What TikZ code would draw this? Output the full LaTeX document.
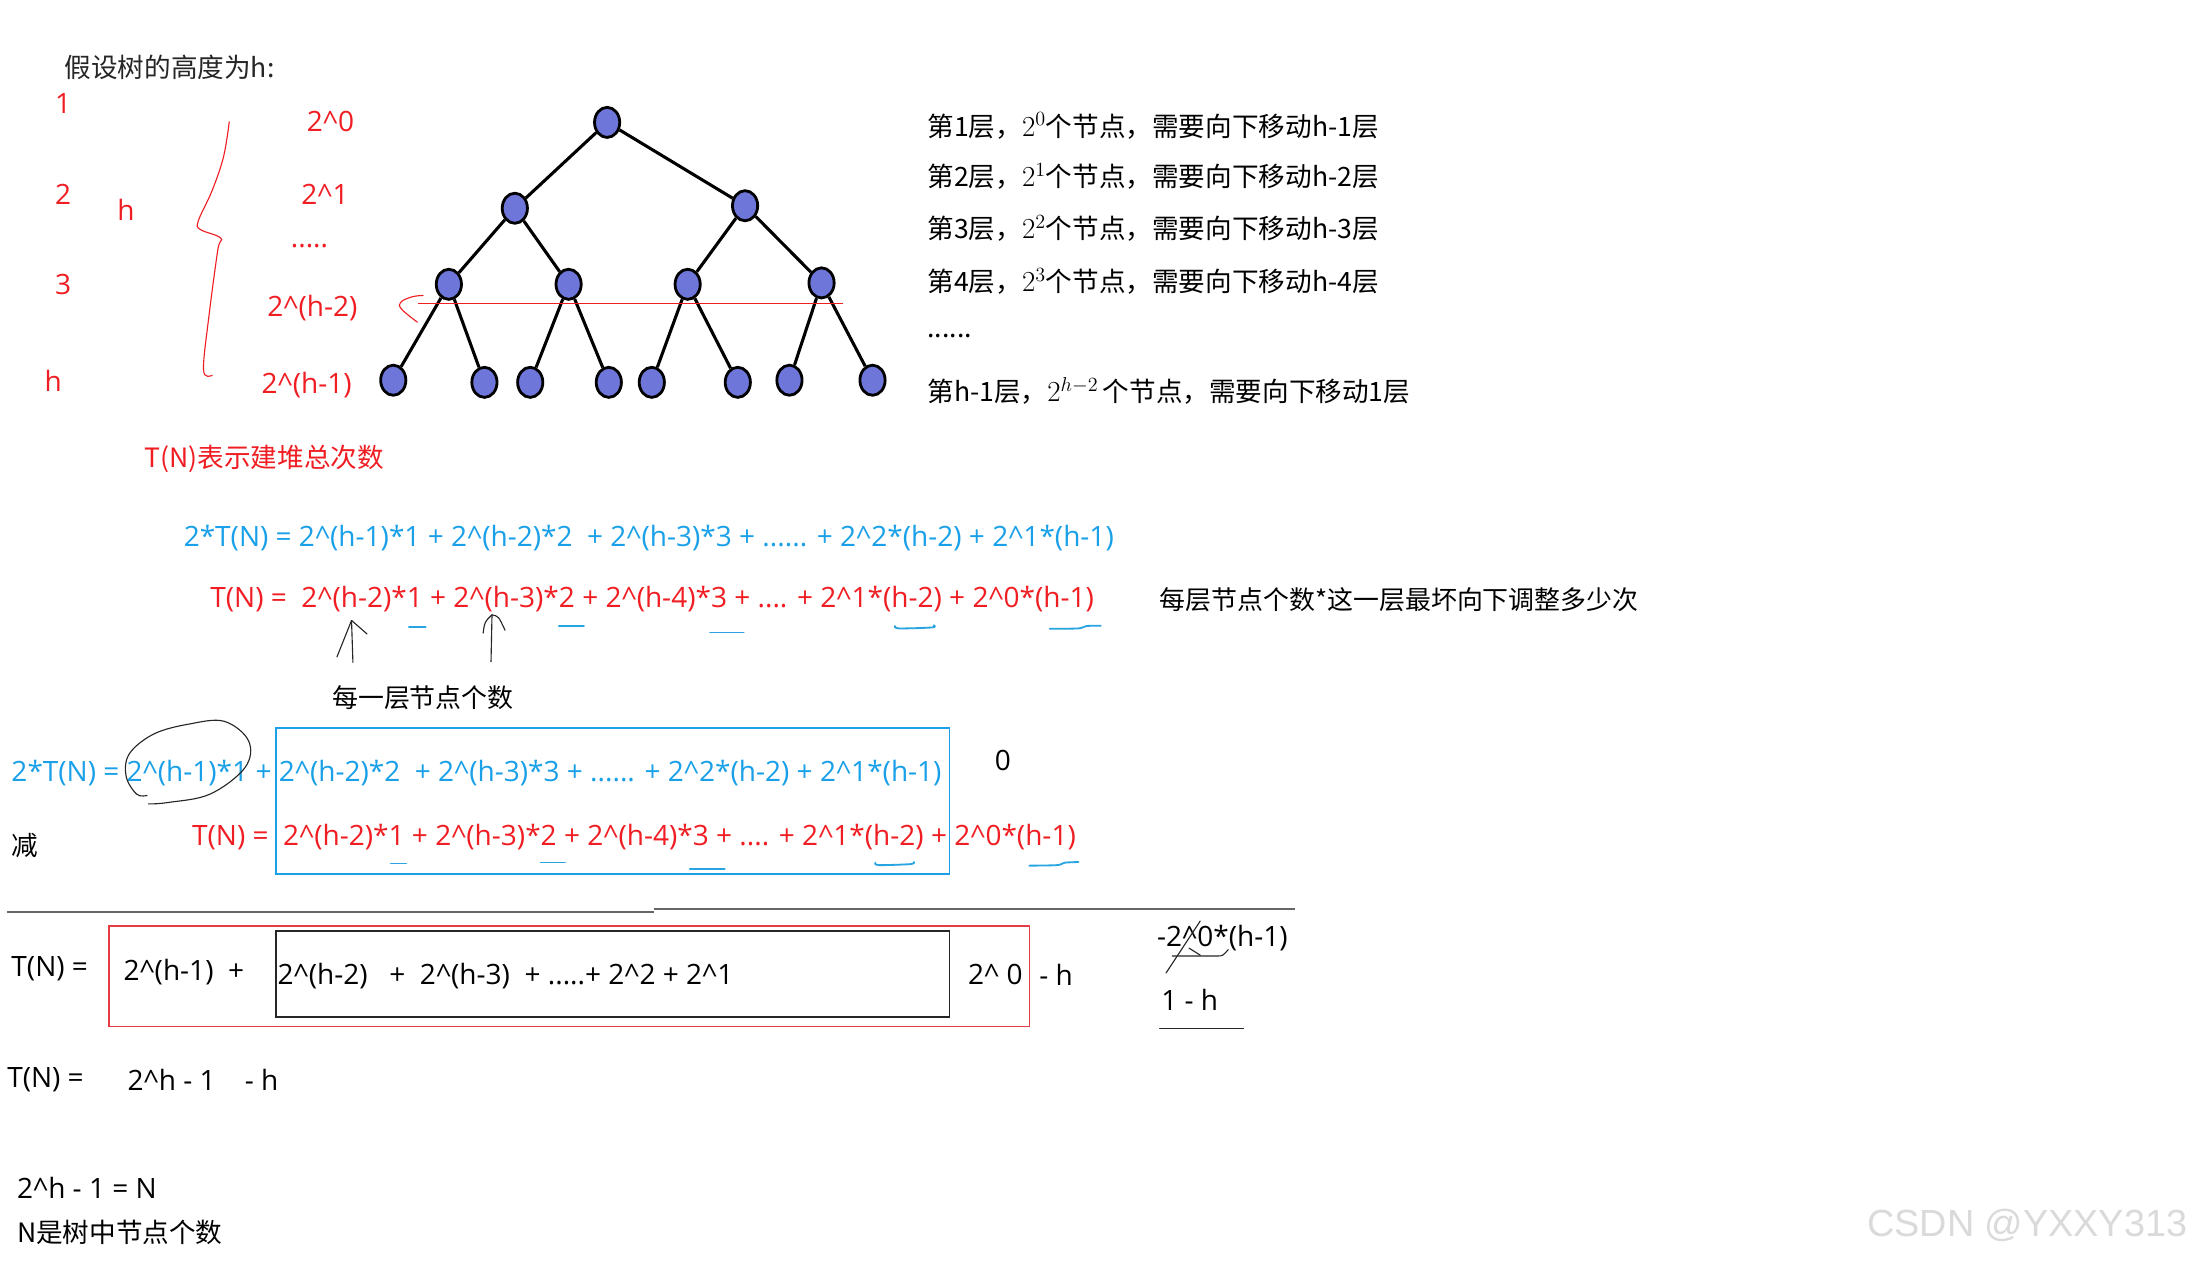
\documentclass[tikz,border=0pt]{standalone}
\usepackage{fontspec}
\setmainfont{Open Sans}
\newfontfamily\cjk{Noto Sans CJK SC}
\newfontfamily\wmfont{Liberation Sans}
\usetikzlibrary{shapes.geometric}
\newcommand\crt{\textasciicircum}
\newcommand\mypwr[1]{\mbox{\fontsize{21.5}{24}\selectfont$#1$}}
\definecolor{tblue}{RGB}{25,160,232}
\definecolor{tred}{RGB}{240,30,35}
\definecolor{nodefill}{RGB}{110,118,218}
\definecolor{ublue}{RGB}{40,165,225}
\definecolor{rbox}{RGB}{230,60,70}
\definecolor{wmgray}{RGB}{218,218,218}
\begin{document}
\begin{tikzpicture}[x=1pt,y=-1pt,
  tnode/.style={ellipse, draw=black, line width=2pt, fill=nodefill, minimum width=18pt, minimum height=21.5pt, inner sep=0pt},
  tedge/.style={line width=2.2pt, black},
  lat/.style={font=\fontsize{20}{24}\selectfont, inner sep=0pt, anchor=west},
  latc/.style={font=\fontsize{20}{24}\selectfont, inner sep=0pt, anchor=center},
  cj/.style={font=\cjk\fontsize{19}{23}\selectfont, inner sep=0pt, anchor=west},
  hand/.style={line width=0.8pt, black!85, line cap=round, line join=round},
  uline/.style={line width=1.3pt, ublue, line cap=round},
  redhand/.style={line width=0.8pt, tred, line cap=round}
]
\fill[white] (0,0) rectangle (1568,901);
\useasboundingbox (0,0) rectangle (1568,901);

% title and left labels
\node[cj, text=black!85] (title) at (46,48) {假设树的高度为h:};
\node[latc, text=tred] (n1) at (45,74) {1};
\node[latc, text=tred] (n2) at (45,139) {2};
\node[latc, text=tred] (n3) at (45,203) {3};
\node[latc, text=tred] (nh) at (38,272) {h};
\node[latc, text=tred] (hmid) at (90,150) {h};
\draw[redhand] plot[smooth, tension=0.6] coordinates {(163.7,87) (159.6,112) (151.5,136) (141.5,158) (143.3,164) (157.6,170) (155.5,178.5) (149.4,224) (145.3,264) (151.5,268)};
\node[latc, text=tred] (l0) at (236,87) {2\crt0};
\node[latc, text=tred] (l1) at (232,139) {2\crt1};
\node[latc, text=tred] (ldots) at (221,176) {.....};
\node[latc, text=tred] (lh2) at (223,220) {2\crt(h-2)};
\node[latc, text=tred] (lh1) at (219,275) {2\crt(h-1)};

% tree
\node[tnode] (t0) at (433.5,87.4) {};
\node[tnode] (t1a) at (367.6,148.7) {};
\node[tnode] (t1b) at (532,146.9) {};
\node[tnode] (t2a) at (320.5,203) {};
\node[tnode] (t2b) at (406,203) {};
\node[tnode] (t2c) at (491,203) {};
\node[tnode] (t2d) at (586.6,202) {};
\node[tnode] (t3a) at (280.8,271.5) {};
\node[tnode] (t3b) at (345.9,273) {};
\node[tnode] (t3c) at (378.6,273) {};
\node[tnode] (t3d) at (434.7,273) {};
\node[tnode] (t3e) at (465.4,273) {};
\node[tnode] (t3f) at (526.8,273) {};
\node[tnode] (t3g) at (563.7,271.5) {};
\node[tnode] (t3h) at (623,271.5) {};
\draw[tedge] (t0) -- (t1a);
\draw[tedge] (t0) -- (t1b);
\draw[tedge] (t1a) -- (t2a);
\draw[tedge] (t1a) -- (t2b);
\draw[tedge] (t1b) -- (t2c);
\draw[tedge] (t1b) -- (t2d);
\draw[tedge] (t2a) -- (t3a);
\draw[tedge] (t2a) -- (t3b);
\draw[tedge] (t2b) -- (t3c);
\draw[tedge] (t2b) -- (t3d);
\draw[tedge] (t2c) -- (t3e);
\draw[tedge] (t2c) -- (t3f);
\draw[tedge] (t2d) -- (t3g);
\draw[tedge] (t2d) -- (t3h);
\draw[line width=0.9pt, tred] (298.6,216.6) -- (602,216.6);
\draw[redhand] plot[smooth, tension=0.7] coordinates {(302,211) (294,212) (286,216) (287,221) (298,230)};

% right description
\node[cj] (r1) at (662,90) {第1层，\mypwr{2^{0}}个节点，需要向下移动h-1层};
\node[cj] (r2) at (662,126) {第2层，\mypwr{2^{1}}个节点，需要向下移动h-2层};
\node[cj] (r3) at (662,163) {第3层，\mypwr{2^{2}}个节点，需要向下移动h-3层};
\node[cj] (r4) at (662,201) {第4层，\mypwr{2^{3}}个节点，需要向下移动h-4层};
\node[cj] (rdots) at (662,240) {......};
\node[cj] (r5) at (662,279) {第h-1层，\mypwr{2^{h-2}}\,个节点，需要向下移动1层};

% first equations
\node[cj, text=tred] (tn) at (103,328) {T(N)表示建堆总次数};
\node[lat, text=tblue] (eqb) at (131,384) {2*T(N) = 2\crt(h-1)*1 + 2\crt(h-2)*2\ \ + 2\crt(h-3)*3 + ...... + 2\crt2*(h-2) + 2\crt1*(h-1)};
\node[lat, text=tred] (eqr) at (150,428) {T(N) =\ \ 2\crt(h-2)*1 + 2\crt(h-3)*2 + 2\crt(h-4)*3 + .... + 2\crt1*(h-2) + 2\crt0*(h-1)};
\node[cj, font=\cjk\fontsize{18.5}{22}\selectfont] (note) at (828,428) {每层节点个数*这一层最坏向下调整多少次};
\draw[uline] (292,447.5) -- (304,447.5);
\draw[uline] (399,446.8) -- (417,446.8);
\draw[uline] (507,451.6) -- (531,451.6);
\draw[uline] plot[smooth] coordinates {(639,447) (642,448.7) (665.6,448) (666.7,446.4)};
\draw[uline] plot[smooth] coordinates {(749.5,449) (770,448.7) (775.7,447) (786,446.8)};

% hand arrows
\coordinate (a1s) at (252,473);
\coordinate (a1t) at (251,443);
\coordinate (a1l) at (240.6,469);
\coordinate (a1r) at (262,452.6);
\draw[hand] (a1s) -- (a1t);
\draw[hand] (a1t) -- (a1l);
\draw[hand] (a1t) -- (a1r);
\coordinate (a2s) at (350.6,472.5);
\coordinate (a2t) at (351.3,439);
\coordinate (a2l) at (345,452);
\coordinate (a2r) at (360.6,450);
\draw[hand] (a2s) -- (a2t);
\draw[hand] (a2l) .. controls (346,444) .. (a2t);
\draw[hand] (a2t) .. controls (356,440) .. (a2r);
\node[cj, font=\cjk\fontsize{18.5}{22}\selectfont] (each) at (237,498) {每一层节点个数};

% second block
\node[lat, text=tblue] (eqb2) at (8,552) {2*T(N) = 2\crt(h-1)*1 + 2\crt(h-2)*2\ \ + 2\crt(h-3)*3 + ...... + 2\crt2*(h-2) + 2\crt1*(h-1)};
\draw[hand] plot[smooth, tension=0.6] coordinates {(106,574) (120,573) (150,567) (175,548) (177.5,529) (160,515) (135,517) (110,524) (92.5,538) (90,554) (97.5,567) (105,568)};
\draw[line width=1.2pt, tblue] (197,520) rectangle (678,624);
\node[latc] (zero) at (716,543) {0};
\node[cj] (jian) at (8,604) {减};
\node[lat, text=tred] (eqr2) at (137,598) {T(N) =\ \ 2\crt(h-2)*1 + 2\crt(h-3)*2 + 2\crt(h-4)*3 + .... + 2\crt1*(h-2) + 2\crt0*(h-1)};
\draw[uline] (279,616.5) -- (290,616.5);
\draw[uline] (386,615.8) -- (403.5,615.8);
\draw[uline] (492.5,620.5) -- (517.5,620.5);
\draw[uline] plot[smooth] coordinates {(625,616) (627.5,617.7) (650,617) (652.5,615.5)};
\draw[uline] plot[smooth] coordinates {(735,618.1) (755,617.7) (760,616) (770,615.5)};

% separator
\draw[line width=1.5pt, black!60] (5,651) -- (467,651);
\draw[line width=1.5pt, black!60] (467,649) -- (925,649);

% third block
\node[lat] (tn3) at (8,692) {T(N) =};
\draw[line width=1.2pt, rbox] (78,661) rectangle (735,733);
\draw[line width=1.3pt, black!85] (197,665) rectangle (678,726);
\node[lat] (a1) at (88,694) {2\crt(h-1)\ \ +};
\node[lat] (a2) at (198,697) {2\crt(h-2)\ \ \ +\ \ 2\crt(h-3)\ \ + .....+ 2\crt2 + 2\crt1};
\node[lat] (a3) at (691,696) {2\crt\ 0};
\node[lat] (a4) at (742,696) {- h};
\node[lat] (s1) at (826,670) {-2\crt0*(h-1)};
\draw[hand] (857,657.6) -- (832.6,694.7);
\draw[hand] (849,677) -- (857,682);
\draw[hand] (837,682.6) -- (869,682.6) .. controls (873,682.6) .. (877,678);
\node[lat] (s2) at (829,714) {1 - h};
\draw[hand] (828,734.5) -- (888,734.5);

% result
\node[lat] (tn4) at (5,771) {T(N) =};
\node[lat] (res) at (91,771) {2\crt h - 1\ \ \ \ - h};
\node[lat] (eqn) at (12,848) {2\crt h - 1 = N};
\node[cj] (ndef) at (12,880) {N是树中节点个数};

% watermark
\node[inner sep=0pt, anchor=west, font=\wmfont\fontsize{27}{30}\selectfont, text=wmgray] (wm) at (1333,875) {CSDN @YXXY313};
\end{tikzpicture}
\end{document}
